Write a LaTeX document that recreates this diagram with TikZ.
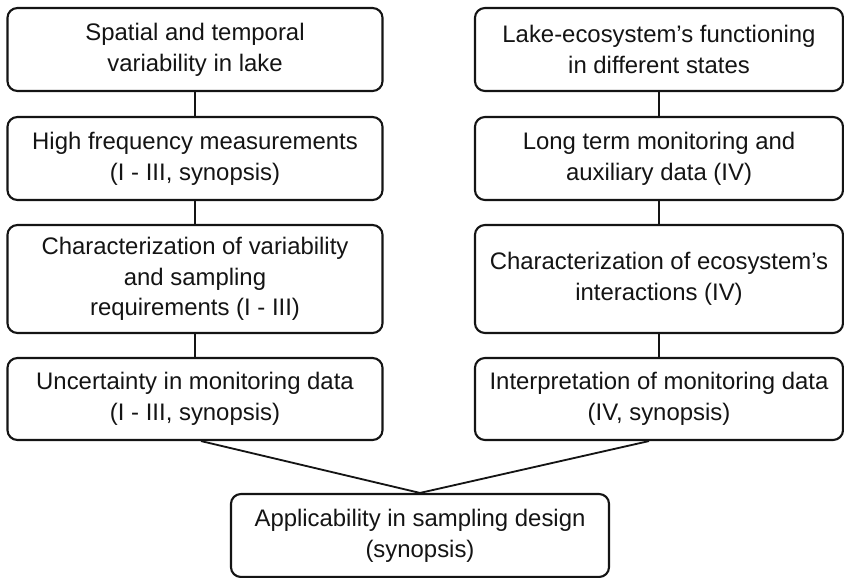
\documentclass[tikz,border=0pt]{standalone}
\usepackage{fontspec}
\setmainfont{Liberation Sans}
\usepackage{tikz}
\usetikzlibrary{positioning, calc}
\definecolor{inkOne}{HTML}{141414}
\tikzset{
  box/.style={draw=inkOne, line width=1.5pt, rounded corners=0.25cm, fill=white, align=center,
    font=\fontsize{17}{21.8}\selectfont, text=inkOne, inner sep=2pt},
  link/.style={draw=inkOne, line width=1.3pt},
}

\begin{document}
\begin{tikzpicture}[x=0.025cm, y=-0.025cm]
  \useasboundingbox (0,0) rectangle (844,578);

  % left column: variability in the lake
  \node[box, minimum width=9.375cm, minimum height=2.075cm] (spat) at (195,49.5)
    {Spatial and temporal\\variability in lake};
  \node[box, minimum width=9.375cm, minimum height=2.075cm] (hfm) at (195,158.5)
    {High frequency measurements\\(I - III, synopsis)};
  \node[box, minimum width=9.375cm, minimum height=2.7cm] (charv) at (195,279)
    {Characterization of variability\\and sampling\\requirements (I - III)};
  \node[box, minimum width=9.375cm, minimum height=2.05cm] (unc) at (195,399)
    {Uncertainty in monitoring data\\(I - III, synopsis)};

  % right column: ecosystem functioning
  \node[box, minimum width=9.2cm, minimum height=2.075cm] (eco) at (659,49.5)
    {Lake-ecosystem's functioning\\in different states};
  \node[box, minimum width=9.2cm, minimum height=2.075cm] (ltm) at (659,158.5)
    {Long term monitoring and\\auxiliary data (IV)};
  \node[box, minimum width=9.2cm, minimum height=2.7cm] (chare) at (659,279)
    {Characterization of ecosystem's\\interactions (IV)};
  \node[box, minimum width=9.2cm, minimum height=2.05cm] (interp) at (659,399)
    {Interpretation of monitoring data\\(IV, synopsis)};

  % joint outcome
  \node[box, minimum width=9.45cm, minimum height=2.075cm] (appl) at (420,535.5)
    {Applicability in sampling design\\(synopsis)};

  % links
  \draw[link] (spat) -- (hfm);
  \draw[link] (hfm) -- (charv);
  \draw[link] (charv) -- (unc);
  \draw[link] (eco) -- (ltm);
  \draw[link] (ltm) -- (chare);
  \draw[link] (chare) -- (interp);
  \draw[link] ([xshift=0.15cm]unc.south) -- (appl.north);
  \draw[link] ([xshift=-0.25cm]interp.south) -- (appl.north);
\end{tikzpicture}
\end{document}
